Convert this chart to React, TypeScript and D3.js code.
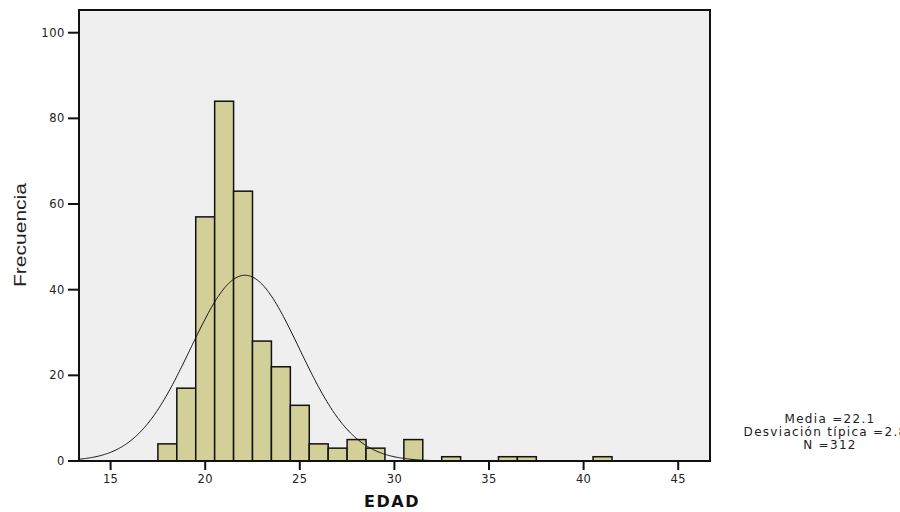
import React from "react";
import * as d3 from "d3";

const ages = [18, 19, 20, 21, 22, 23, 24, 25, 26, 27, 28, 29, 31, 33, 36, 37, 41];
const counts = [4, 17, 57, 84, 63, 28, 22, 13, 4, 3, 5, 3, 5, 1, 1, 1, 1];
const yTicks = [0, 20, 40, 60, 80, 100];
const xTicks = [15, 20, 25, 30, 35, 40, 45];
const mean = 22.1;
const sd = 2.87;
const n = 312;
const statLines = ["Media =22.1", "Desviación típica =2.87", "N =312"];

const W = 900;
const H = 512;
const L = 79, T = 10, R = 710, B = 461;

export default function App() {
  const x = d3.scaleLinear().domain([13.33, 46.68]).range([L, R]);
  const y = d3.scaleLinear().domain([0, 105.3]).range([B, T]);

  const curveXs = d3.range(13.33, 46.68, 0.05);
  const dens = (v: number) =>
    (n * 1) / (sd * Math.sqrt(2 * Math.PI)) * Math.exp(-((v - mean) ** 2) / (2 * sd * sd));
  const line = d3
    .line<number>()
    .x((d) => x(d))
    .y((d) => y(dens(d)))
    .curve(d3.curveLinear);

  const font = "'DejaVu Sans', Verdana, sans-serif";

  return (
    <svg width={W} height={H} style={{ position: "absolute", left: 0, top: 0 }}>
      <rect x={0} y={0} width={W} height={H} fill="#ffffff" />
      <rect x={L} y={T} width={R - L} height={B - T} fill="#efefef" />
      {ages.map((a, i) => (
        <rect
          key={a}
          x={x(a - 0.5)}
          y={y(counts[i])}
          width={x(a + 0.5) - x(a - 0.5)}
          height={B - y(counts[i])}
          fill="#d3cf99"
          stroke="#111"
          strokeWidth={1.5}
        />
      ))}
      <path d={line(curveXs) || ""} fill="none" stroke="#111" strokeWidth={1} />
      <rect x={L} y={T} width={R - L} height={B - T} fill="none" stroke="#111" strokeWidth={2} />
      {yTicks.map((t) => (
        <g key={t}>
          <line x1={68} x2={L} y1={y(t)} y2={y(t)} stroke="#111" strokeWidth={2} />
          <text
            x={65}
            y={y(t) + 4}
            textAnchor="end"
            fontFamily={font}
            fontSize={11.5}
            letterSpacing={0.6}
            fill="#222"
          >
            {t}
          </text>
        </g>
      ))}
      {xTicks.map((t) => (
        <g key={t}>
          <line x1={x(t)} x2={x(t)} y1={B} y2={B + 9} stroke="#111" strokeWidth={2} />
          <text
            x={x(t)}
            y={B + 22}
            textAnchor="middle"
            fontFamily={font}
            fontSize={11.5}
            letterSpacing={0.4}
            fill="#222"
          >
            {t}
          </text>
        </g>
      ))}
      <text
        transform="translate(26,235) rotate(-90)"
        textAnchor="middle"
        fontFamily="'Liberation Sans', Arial, sans-serif"
        fontSize={17}
        fill="#222"
        textLength={104}
        lengthAdjust="spacingAndGlyphs"
      >
        Frecuencia
      </text>
      <text
        x={392}
        y={507}
        textAnchor="middle"
        fontFamily={font}
        fontSize={16}
        fontWeight="bold"
        fill="#111"
        letterSpacing={1.5}
      >
        EDAD
      </text>
      {statLines.map((s, i) => (
        <text
          key={s}
          x={830}
          y={423 + i * 13}
          textAnchor="middle"
          fontFamily={font}
          fontSize={12}
          letterSpacing={1.3}
          fill="#222"
        >
          {s}
        </text>
      ))}
    </svg>
  );
}
